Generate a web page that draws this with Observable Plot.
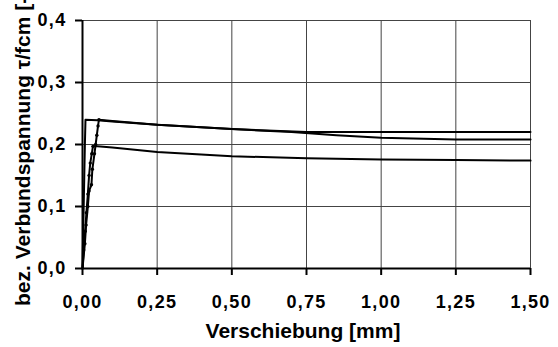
<!DOCTYPE html>
<html><head><meta charset="utf-8">
<script src="https://cdn.jsdelivr.net/npm/d3@7"></script>
<script src="https://cdn.jsdelivr.net/npm/@observablehq/plot@0.6"></script>
<style>
body{margin:0;background:#fff}
#chart svg text{font-family:"Liberation Sans", Arial, sans-serif;font-weight:bold;fill:#000}
#chart svg g[aria-label$="tick label"] text{font-size:18px;letter-spacing:1.3px}
#chart svg text.ttl{font-size:21px}
</style>
</head><body><div id="chart"></div>
<script>
const xTicks = [0, 0.25, 0.5, 0.75, 1.0, 1.25, 1.5];
const yTicks = [0, 0.1, 0.2, 0.3, 0.4];
const xLabel = "Verschiebung [mm]";
const yLabel = "bez. Verbundspannung τ/fcm [-]";

const curveA_x = [0, 0.002, 0.004, 0.006, 0.008, 0.010, 0.05, 0.10, 0.25, 0.50, 0.75, 1.00, 1.25, 1.50];
const curveA_y = [0, 0.05, 0.10, 0.15, 0.20, 0.240, 0.239, 0.237, 0.232, 0.225, 0.220, 0.220, 0.220, 0.220];

const curveB_x = [0, 0.008, 0.012, 0.018, 0.022, 0.030, 0.033, 0.040, 0.044, 0.048, 0.052, 0.055, 0.10, 0.25, 0.50, 0.70, 0.85, 1.00, 1.25, 1.50];
const curveB_y = [0, 0.04, 0.07, 0.10, 0.125, 0.135, 0.16, 0.185, 0.20, 0.215, 0.23, 0.240, 0.238, 0.232, 0.225, 0.220, 0.215, 0.211, 0.208, 0.208];

const curveC_x = [0, 0.004, 0.009, 0.013, 0.018, 0.022, 0.026, 0.031, 0.035, 0.05, 0.10, 0.25, 0.50, 0.75, 1.00, 1.25, 1.50];
const curveC_y = [0, 0.03, 0.06, 0.09, 0.12, 0.15, 0.17, 0.185, 0.197, 0.197, 0.195, 0.188, 0.181, 0.178, 0.176, 0.175, 0.174];

// measured points on the ascending branches
const dotsB_x = [0.008, 0.012, 0.018, 0.022, 0.030, 0.033, 0.040, 0.044, 0.048, 0.052, 0.055];
const dotsB_y = [0.04, 0.07, 0.10, 0.125, 0.135, 0.16, 0.185, 0.20, 0.215, 0.23, 0.240];
const dotsC_x = [0.004, 0.009, 0.013, 0.018, 0.022, 0.026, 0.031, 0.035];
const dotsC_y = [0.03, 0.06, 0.09, 0.12, 0.15, 0.17, 0.185, 0.197];

const toRows = (xs, ys, id) => xs.map((x, i) => ({x, y: ys[i], id}));
const lines = [
  ...toRows(curveA_x, curveA_y, "A"),
  ...toRows(curveB_x, curveB_y, "B"),
  ...toRows(curveC_x, curveC_y, "C")
];
const dots = [...toRows(dotsB_x, dotsB_y, "B"), ...toRows(dotsC_x, dotsC_y, "C")];

const loc = d3.formatLocale({decimal: ",", thousands: ".", grouping: [3], currency: ["", "€"]});
const f2 = loc.format(".2f"), f1 = loc.format(".1f");

const plot = Plot.plot({
  width: 558, height: 347,
  marginLeft: 82, marginRight: 28, marginTop: 20, marginBottom: 79,
  style: {background: "#fff", color: "#000"},
  x: {domain: [0, 1.5]},
  y: {domain: [0, 0.4]},
  marks: [
    Plot.gridX(xTicks, {stroke: "#444", strokeOpacity: 1, strokeWidth: 1}),
    Plot.gridY(yTicks, {stroke: "#444", strokeOpacity: 1, strokeWidth: 1}),
    Plot.line(lines, {x: "x", y: "y", z: "id", stroke: "#000", strokeWidth: 2}),
    Plot.dot(dots, {x: "x", y: "y", r: 1.7, fill: "#000"}),
    Plot.axisX(xTicks, {tickFormat: f2, tickSize: 7, tickPadding: 20, strokeWidth: 2, label: null}),
    Plot.axisY(yTicks, {tickFormat: f1, tickSize: 7, tickPadding: 9, strokeWidth: 2, label: null}),
    Plot.ruleX([0], {stroke: "#000", strokeWidth: 2}),
    Plot.ruleY([0], {stroke: "#000", strokeWidth: 2})
  ]
});
const svg = d3.select(plot);
svg.append("text").attr("class", "ttl")
  .attr("x", 303).attr("y", 338)
  .attr("text-anchor", "middle")
  .text(xLabel);
svg.append("text").attr("class", "ttl")
  .attr("transform", "translate(30,306) rotate(-90)")
  .attr("text-anchor", "start")
  .text(yLabel);
document.getElementById("chart").appendChild(plot);
</script></body></html>
